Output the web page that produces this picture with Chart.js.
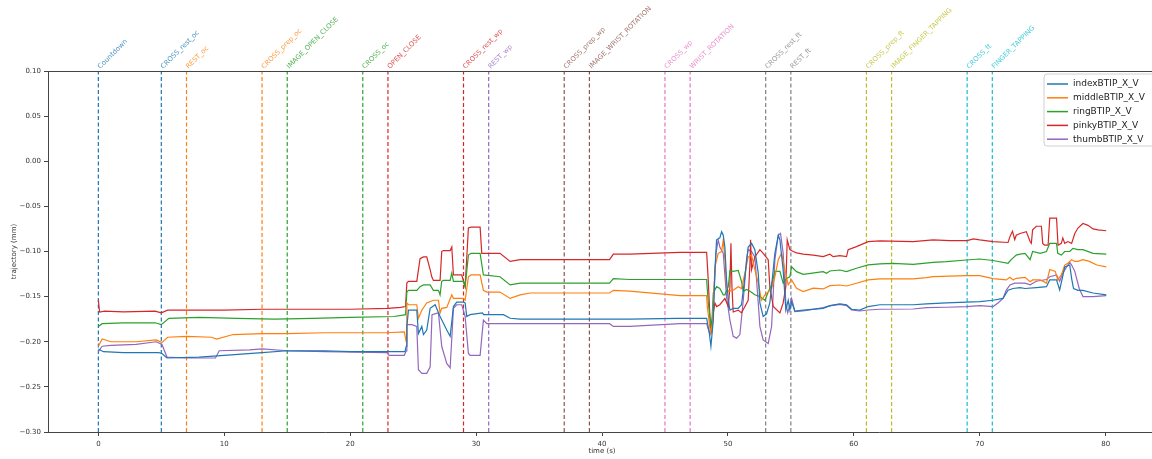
<!DOCTYPE html>
<html>
<head>
<meta charset="utf-8">
<script src="https://cdn.jsdelivr.net/npm/chart.js@4.4.1/dist/chart.umd.min.js"></script>
<style>
html,body{margin:0;padding:0;background:#fff;overflow:hidden;width:1152px;height:459px;}
#wrap{position:absolute;left:0;top:0;width:1160px;height:459px;}
</style>
</head>
<body>
<div id="wrap"><canvas id="c" width="1160" height="459"></canvas></div>
<script>
// ---- tick labels ----
const xTicks = [0, 10, 20, 30, 40, 50, 60, 70, 80];
const yTicks = [0.10, 0.05, 0.00, -0.05, -0.10, -0.15, -0.20, -0.25, -0.30];

// ---- event markers (time, label) ----
const eventTimes = [0, 5, 7, 13, 15, 21, 23, 29, 31, 37, 39, 45, 47, 53, 55, 61, 63, 69, 71];
const eventNames = ['Countdown','CROSS_rest_oc','REST_oc','CROSS_prep_oc','IMAGE_OPEN_CLOSE','CROSS_oc','OPEN_CLOSE',
  'CROSS_rest_wp','REST_wp','CROSS_prep_wp','IMAGE_WRIST_ROTATION','CROSS_wp','WRIST_ROTATION',
  'CROSS_rest_ft','REST_ft','CROSS_prep_ft','IMAGE_FINGER_TAPPING','CROSS_ft','FINGER_TAPPING'];

// ---- series: [time (s), trajectory (mm)] ----
const seriesNames = ['indexBTIP_X_V','middleBTIP_X_V','ringBTIP_X_V','pinkyBTIP_X_V','thumbBTIP_X_V'];

const indexBTIP = [[0,-0.208],[0.4,-0.211],[2,-0.212],[4.8,-0.212],[5.05,-0.213],[5.45,-0.218],[8,-0.217],[10,-0.215],[13,-0.212],[15,-0.210],[18,-0.210],[20,-0.211],[24.35,-0.211],[24.45,-0.205],
 [24.5,-0.183],[24.63,-0.165],[25.29,-0.165],[25.42,-0.191],[25.69,-0.183],[25.82,-0.192],[26.08,-0.187],[26.35,-0.163],[26.75,-0.159],[27.14,-0.172],[27.67,-0.187],[27.94,-0.194],[28.2,-0.161],[28.46,-0.156],[28.99,-0.156],[29.13,-0.157],[29.26,-0.172],[29.52,-0.170],[30.5,-0.168],[30.6,-0.170],[32.17,-0.170],[32.7,-0.174],[33.5,-0.175],[40.6,-0.175],[42.2,-0.175],[46,-0.174],[48.31,-0.174],
 [48.52,-0.190],[48.65,-0.205],[48.84,-0.176],[48.97,-0.121],[49.1,-0.087],[49.36,-0.085],[49.5,-0.078],[49.63,-0.082],[49.76,-0.095],[49.89,-0.131],[50.03,-0.154],[50.16,-0.165],[50.42,-0.163],[50.82,-0.163],[51.08,-0.159],[51.35,-0.128],[51.61,-0.095],[51.88,-0.091],[52.14,-0.098],[52.41,-0.124],[52.54,-0.157],[52.8,-0.172],[53.07,-0.169],[53.33,-0.157],[53.73,-0.102],[54.0,-0.082],[54.13,-0.087],[54.39,-0.121],[54.6,-0.165],[54.79,-0.154],[54.92,-0.165],[55.06,-0.156],[55.32,-0.166],
 [55.98,-0.165],[57.57,-0.163],[58.1,-0.160],[58.89,-0.158],[59.42,-0.159],[59.82,-0.164],[60.47,-0.165],[61.14,-0.161],[62.07,-0.159],[64.71,-0.159],[65.77,-0.158],[67.36,-0.157],[68.95,-0.156],[70.0,-0.1555],[71.06,-0.154],[71.85,-0.152],[72.25,-0.143],[72.65,-0.141],[73.2,-0.140],[73.6,-0.141],[74.5,-0.140],[75.3,-0.139],[75.56,-0.1315],[76.1,-0.1315],[76.35,-0.1426],[76.6,-0.127],[76.75,-0.117],[77.15,-0.115],[77.3,-0.130],[77.45,-0.141],[77.8,-0.143],[78.2,-0.143],[79.0,-0.146],[80.05,-0.148]];

const middleBTIP = [[0,-0.205],[0.3,-0.197],[1,-0.200],[3,-0.200],[4.6,-0.198],[5.05,-0.201],[5.5,-0.195],[7,-0.194],[9,-0.195],[9.4,-0.197],[10.7,-0.192],[13,-0.191],[15,-0.191],[18,-0.190],[22.9,-0.190],[24.3,-0.189],[24.45,-0.200],
 [24.5,-0.157],[24.63,-0.159],[25.29,-0.159],[25.42,-0.174],[25.69,-0.165],[26.08,-0.157],[26.61,-0.154],[27.01,-0.154],[27.14,-0.168],[27.27,-0.163],[27.67,-0.162],[28.07,-0.148],[28.2,-0.152],[28.99,-0.152],[29.13,-0.154],[29.39,-0.128],[29.6,-0.126],[30.32,-0.126],[30.58,-0.143],[30.85,-0.145],[31.9,-0.145],[32.7,-0.152],[33.5,-0.148],[34.3,-0.146],[40.6,-0.146],[40.9,-0.143],[42.2,-0.144],[46.2,-0.149],[48.31,-0.149],
 [48.36,-0.161],[48.62,-0.190],[48.78,-0.180],[48.97,-0.117],[49.23,-0.102],[49.5,-0.100],[49.63,-0.087],[49.76,-0.109],[49.89,-0.139],[50.03,-0.144],[50.42,-0.143],[50.82,-0.139],[51.08,-0.141],[51.35,-0.124],[51.61,-0.106],[51.88,-0.104],[52.14,-0.120],[52.41,-0.135],[52.67,-0.154],[52.94,-0.148],[53.2,-0.145],[53.47,-0.141],[53.73,-0.128],[54.0,-0.109],[54.26,-0.102],[54.52,-0.120],[54.79,-0.137],[55.06,-0.1315],[55.45,-0.1407],[55.98,-0.1444],
 [56.78,-0.1407],[57.57,-0.1415],[58.1,-0.1378],[58.89,-0.1371],[59.42,-0.1382],[60.21,-0.1352],[61.14,-0.1315],[62.07,-0.1304],[64.71,-0.1304],[65.77,-0.129],[66.3,-0.1278],[68.95,-0.1267],[70.0,-0.1267],[71.06,-0.130],[72.1,-0.1315],[72.4,-0.1286],[72.65,-0.1315],[72.9,-0.1297],[73.6,-0.1286],[74.0,-0.1334],[74.2,-0.1315],[74.8,-0.1315],[75.3,-0.135],[75.56,-0.120],[76.0,-0.122],[76.2,-0.1315],[76.48,-0.126],[76.75,-0.115],[77.0,-0.113],[77.3,-0.109],[77.55,-0.111],[77.8,-0.111],[78.2,-0.109],[78.7,-0.111],[79.3,-0.115],[80.05,-0.117]];

const ringBTIP = [[0,-0.183],[0.3,-0.180],[2,-0.179],[4.5,-0.179],[5.0,-0.181],[5.6,-0.174],[8,-0.173],[11,-0.174],[14,-0.175],[17,-0.174],[20,-0.173],[23.5,-0.172],[24.4,-0.170],
 [24.5,-0.145],[24.63,-0.143],[25.29,-0.143],[25.55,-0.139],[25.82,-0.137],[26.35,-0.137],[26.61,-0.143],[27.01,-0.143],[27.14,-0.148],[27.27,-0.133],[27.4,-0.132],[27.94,-0.132],[28.07,-0.124],[28.2,-0.133],[28.99,-0.133],[29.13,-0.139],[29.39,-0.104],[29.6,-0.102],[30.32,-0.102],[30.58,-0.126],[31.9,-0.128],[32.7,-0.137],[33.5,-0.135],[40.6,-0.135],[40.9,-0.130],[42.2,-0.131],[46.2,-0.131],[48.31,-0.131],
 [48.44,-0.157],[48.7,-0.187],[48.84,-0.146],[49.1,-0.139],[49.36,-0.141],[49.63,-0.148],[49.76,-0.148],[50.03,-0.139],[50.16,-0.121],[50.42,-0.122],[50.82,-0.121],[51.08,-0.133],[51.22,-0.144],[51.48,-0.142],[51.75,-0.144],[52.14,-0.148],[52.54,-0.150],[52.94,-0.154],[53.2,-0.145],[53.47,-0.137],[53.73,-0.122],[54.13,-0.122],[54.39,-0.135],[54.66,-0.130],[54.92,-0.128],[55.06,-0.117],[55.45,-0.1223],[55.98,-0.1253],
 [57.57,-0.1223],[57.83,-0.1241],[58.1,-0.1216],[58.89,-0.1205],[59.42,-0.1223],[60.21,-0.1186],[61.14,-0.1149],[62.07,-0.1138],[63.13,-0.1131],[64.71,-0.1142],[66.3,-0.112],[67.36,-0.1112],[68.95,-0.1094],[70.0,-0.1083],[71.06,-0.110],[72.25,-0.113],[72.5,-0.109],[72.9,-0.104],[73.2,-0.103],[73.6,-0.102],[74.0,-0.109],[74.2,-0.100],[74.8,-0.102],[75.3,-0.100],[75.56,-0.091],[76.1,-0.091],[76.2,-0.102],[76.48,-0.104],[76.75,-0.100],[77.15,-0.100],[77.4,-0.0965],[77.8,-0.098],[78.2,-0.098],[79.0,-0.102],[80.05,-0.103]];

const pinkyBTIP = [[0,-0.154],[0.1,-0.167],[0.5,-0.166],[2,-0.167],[4.5,-0.166],[5.0,-0.168],[5.5,-0.165],[7,-0.165],[10,-0.165],[13,-0.164],[17,-0.164],[20,-0.164],[23,-0.163],[24.0,-0.162],[24.4,-0.161],
 [24.5,-0.135],[24.63,-0.133],[25.29,-0.133],[25.55,-0.108],[25.82,-0.106],[26.08,-0.106],[26.35,-0.120],[26.48,-0.128],[26.61,-0.132],[27.14,-0.132],[27.27,-0.100],[27.4,-0.099],[27.94,-0.099],[28.07,-0.095],[28.2,-0.126],[28.86,-0.126],[29.13,-0.139],[29.39,-0.074],[29.6,-0.073],[30.32,-0.073],[30.45,-0.102],[31.9,-0.102],[32.7,-0.111],[33.5,-0.109],[40.6,-0.109],[40.9,-0.103],[42.2,-0.103],[46.2,-0.101],[48.31,-0.101],
 [48.44,-0.132],[48.62,-0.187],[48.84,-0.168],[48.97,-0.157],[49.1,-0.161],[49.36,-0.159],[49.76,-0.152],[50.03,-0.161],[50.16,-0.139],[50.24,-0.091],[50.32,-0.139],[50.42,-0.167],[50.82,-0.165],[51.08,-0.168],[51.35,-0.161],[51.61,-0.154],[51.75,-0.113],[51.8,-0.087],[51.88,-0.120],[52.14,-0.106],[52.54,-0.098],[52.8,-0.102],[53.2,-0.109],[53.33,-0.139],[53.6,-0.161],[54.13,-0.168],[54.39,-0.157],[54.6,-0.139],[54.71,-0.087],[54.92,-0.098],[55.18,-0.100],[55.45,-0.1015],
 [55.98,-0.103],[56.78,-0.104],[57.57,-0.1057],[58.1,-0.103],[58.36,-0.1057],[58.89,-0.1045],[59.42,-0.1057],[59.55,-0.098],[60.21,-0.0946],[61.14,-0.0891],[62.07,-0.0883],[64.71,-0.0891],[66.3,-0.0872],[67.62,-0.088],[69.0,-0.088],[69.5,-0.0861],[70.0,-0.0872],[71.06,-0.089],[72.25,-0.090],[72.4,-0.0835],[72.6,-0.0775],[72.78,-0.087],[72.9,-0.082],[73.2,-0.080],[73.7,-0.078],[74.0,-0.089],[74.1,-0.091],[74.2,-0.076],[74.5,-0.072],[74.9,-0.072],[75.0,-0.091],[75.15,-0.093],[75.43,-0.093],[75.56,-0.063],[76.1,-0.063],[76.22,-0.093],[76.48,-0.091],[76.6,-0.085],[76.75,-0.091],[77.0,-0.089],[77.3,-0.091],[77.55,-0.080],[77.8,-0.074],[78.2,-0.069],[78.6,-0.071],[79.0,-0.075],[79.4,-0.076],[80.05,-0.077]];

const thumbBTIP = [[0,-0.211],[0.3,-0.205],[1,-0.204],[3,-0.203],[4.6,-0.200],[5.05,-0.203],[5.45,-0.217],[7,-0.218],[9.3,-0.218],[9.6,-0.210],[12,-0.209],[13,-0.208],[15,-0.210],[18,-0.211],[22.9,-0.212],[23.1,-0.215],[24.3,-0.215],[24.45,-0.210],
 [24.5,-0.181],[24.9,-0.181],[25.29,-0.183],[25.42,-0.231],[25.69,-0.235],[26.08,-0.235],[26.35,-0.228],[26.5,-0.170],[27.01,-0.168],[27.27,-0.205],[27.67,-0.224],[27.94,-0.229],[28.2,-0.163],[28.46,-0.159],[28.86,-0.159],[29.13,-0.172],[29.39,-0.213],[29.52,-0.215],[30.32,-0.215],[30.58,-0.176],[30.85,-0.180],[32.43,-0.180],[33.5,-0.180],[40.6,-0.180],[40.9,-0.183],[42.2,-0.183],[46.2,-0.180],[48.31,-0.180],
 [48.57,-0.192],[48.7,-0.190],[48.89,-0.146],[49.05,-0.102],[49.23,-0.087],[49.36,-0.095],[49.63,-0.102],[49.89,-0.150],[50.16,-0.176],[50.42,-0.194],[50.69,-0.196],[50.95,-0.192],[51.22,-0.154],[51.48,-0.109],[51.61,-0.098],[51.88,-0.100],[52.14,-0.106],[52.41,-0.157],[52.54,-0.183],[52.8,-0.198],[53.2,-0.202],[53.47,-0.183],[53.73,-0.109],[54.0,-0.082],[54.18,-0.080],[54.39,-0.102],[54.6,-0.157],[54.75,-0.168],[55.06,-0.152],[55.32,-0.1666],
 [55.98,-0.1659],[57.57,-0.1622],[58.1,-0.1603],[58.89,-0.1585],[59.42,-0.160],[59.82,-0.1648],[60.47,-0.1659],[61.14,-0.1648],[62.07,-0.164],[64.71,-0.1637],[65.77,-0.1622],[67.36,-0.1618],[68.95,-0.161],[70.0,-0.160],[71.06,-0.161],[71.45,-0.157],[71.85,-0.152],[72.1,-0.143],[72.4,-0.137],[72.78,-0.135],[73.6,-0.135],[74.0,-0.137],[74.5,-0.133],[75.3,-0.131],[75.56,-0.128],[76.1,-0.126],[76.35,-0.133],[76.6,-0.124],[76.9,-0.117],[77.15,-0.112],[77.3,-0.115],[77.55,-0.122],[77.9,-0.141],[78.2,-0.150],[79.0,-0.150],[80.05,-0.149]];

// ---- styling ----
const seriesColors = ['#1f77b4','#ff7f0e','#2ca02c','#d62728','#9467bd'];
const eventColors = ['#1f77b4','#1f77b4','#ff7f0e','#ff7f0e','#2ca02c','#2ca02c','#d62728','#d62728','#9467bd',
  '#8c564b','#8c564b','#e377c2','#e377c2','#7f7f7f','#7f7f7f','#bcbd22','#bcbd22','#17becf','#17becf'];
const FONT = 'DejaVu Sans';
const X_MIN = -4, X_MAX = 84, Y_MIN = -0.30, Y_MAX = 0.10;

const allSeries = [indexBTIP, middleBTIP, ringBTIP, pinkyBTIP, thumbBTIP];
const datasets = allSeries.map((s, i) => ({
  label: seriesNames[i],
  data: s.map(p => ({x: p[0], y: p[1]})),
  borderColor: seriesColors[i],
  borderWidth: 1.2,
  pointRadius: 0,
  tension: 0,
  fill: false
}));
eventTimes.forEach((t, i) => {
  datasets.push({
    label: '_ev' + i,
    data: [{x: t, y: Y_MIN}, {x: t, y: Y_MAX}],
    borderColor: eventColors[i],
    borderWidth: 1.2,
    borderDash: [4, 2.5],
    pointRadius: 0,
    fill: false
  });
});

function fmtY(v) {
  if (Math.abs(v) < 1e-9) return '0.00';
  const s = Math.abs(v).toFixed(2);
  return v < 0 ? '\u2212' + s : s;
}

const overlay = {
  id: 'overlay',
  afterDraw(chart) {
    const ctx = chart.ctx, xs = chart.scales.x, area = chart.chartArea;
    // event labels
    ctx.save();
    ctx.font = '6.8px "' + FONT + '"';
    ctx.textAlign = 'left';
    ctx.textBaseline = 'alphabetic';
    eventTimes.forEach((t, i) => {
      const px = xs.getPixelForValue(t);
      ctx.save();
      ctx.translate(px + 2, area.top - 2);
      ctx.rotate(-Math.PI / 4);
      ctx.globalAlpha = 0.8;
      ctx.fillStyle = eventColors[i];
      ctx.fillText(eventNames[i], 0, 0);
      ctx.restore();
    });
    ctx.restore();
    // legend
    ctx.save();
    const bx = 1044, by = 74, bw = 112, bh = 72, r = 3;
    ctx.beginPath();
    ctx.moveTo(bx + r, by);
    ctx.lineTo(bx + bw - r, by); ctx.quadraticCurveTo(bx + bw, by, bx + bw, by + r);
    ctx.lineTo(bx + bw, by + bh - r); ctx.quadraticCurveTo(bx + bw, by + bh, bx + bw - r, by + bh);
    ctx.lineTo(bx + r, by + bh); ctx.quadraticCurveTo(bx, by + bh, bx, by + bh - r);
    ctx.lineTo(bx, by + r); ctx.quadraticCurveTo(bx, by, bx + r, by);
    ctx.closePath();
    ctx.fillStyle = 'rgba(255,255,255,0.8)';
    ctx.fill();
    ctx.strokeStyle = '#d0d0d0';
    ctx.lineWidth = 1;
    ctx.stroke();
    ctx.font = '9px "' + FONT + '"';
    ctx.textBaseline = 'middle';
    ctx.textAlign = 'left';
    seriesNames.forEach((n, i) => {
      const y = by + 10 + i * 13.8;
      ctx.strokeStyle = seriesColors[i];
      ctx.lineWidth = 1.5;
      ctx.beginPath(); ctx.moveTo(1047, y); ctx.lineTo(1068, y); ctx.stroke();
      ctx.fillStyle = '#222';
      ctx.fillText(n, 1073, y);
    });
    ctx.restore();
  }
};

new Chart(document.getElementById('c'), {
  type: 'line',
  data: { datasets },
  options: {
    responsive: false,
    animation: false,
    events: [],
    layout: { padding: { top: 71, right: 4, left: 0, bottom: 0 } },
    plugins: { legend: { display: false }, tooltip: { enabled: false } },
    scales: {
      x: {
        type: 'linear', min: X_MIN, max: X_MAX,
        afterBuildTicks: s => { s.ticks = xTicks.map(v => ({value: v})); },
        afterFit: s => { s.height = 27; },
        grid: { drawOnChartArea: false, tickLength: 4, color: '#444' },
        border: { color: '#444', width: 1 },
        ticks: { font: { family: FONT, size: 7 }, color: '#333', padding: 4, maxRotation: 0 },
        title: { display: true, text: 'time (s)', font: { family: FONT, size: 7 }, color: '#333', padding: { top: 1, bottom: 4 } }
      },
      y: {
        type: 'linear', min: Y_MIN, max: Y_MAX,
        afterBuildTicks: s => { s.ticks = yTicks.map(v => ({value: v})); },
        afterFit: s => { s.width = 48; },
        grid: { drawOnChartArea: false, tickLength: 4, color: '#444' },
        border: { color: '#444', width: 1 },
        ticks: { font: { family: FONT, size: 7 }, color: '#333', padding: 3, callback: v => fmtY(v) },
        title: { display: true, text: 'trajectory (mm)', font: { family: FONT, size: 7 }, color: '#333', padding: { top: 10, bottom: 0 } }
      }
    }
  },
  plugins: [overlay, {
    id: 'frame',
    afterDatasetsDraw(chart) {
      const a = chart.chartArea, ctx = chart.ctx;
      ctx.save();
      ctx.strokeStyle = '#444'; ctx.lineWidth = 1;
      ctx.beginPath();
      ctx.moveTo(a.left, a.top + 0.5); ctx.lineTo(a.right, a.top + 0.5);
      ctx.moveTo(a.right - 0.5, a.top); ctx.lineTo(a.right - 0.5, a.bottom);
      ctx.stroke();
      ctx.restore();
    }
  }]
});
</script>
</body>
</html>
